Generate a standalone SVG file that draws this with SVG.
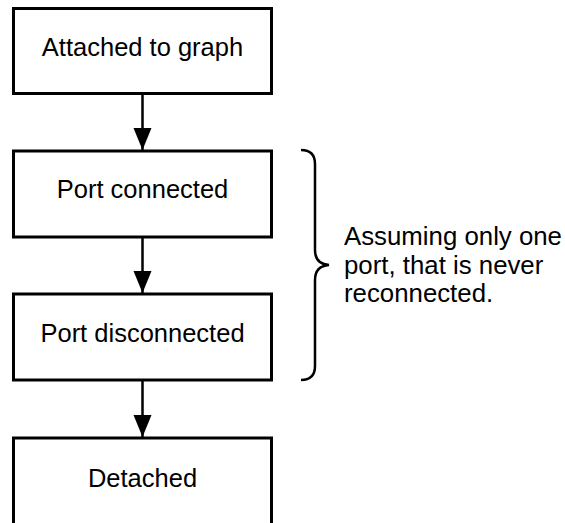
<svg xmlns="http://www.w3.org/2000/svg" width="565" height="523" viewBox="0 0 565 523">
<style>
.box{fill:#fff;stroke:#000;stroke-width:3}
.lbl{font-family:"Liberation Sans",Arial,sans-serif;font-size:25.5px;fill:#000;text-anchor:middle}
.note{font-family:"Liberation Sans",Arial,sans-serif;font-size:25.8px;fill:#000}
.edge{stroke:#000;stroke-width:2.5;fill:none}
</style>
<defs>
<marker id="ah" markerUnits="userSpaceOnUse" markerWidth="24" markerHeight="20" refX="22" refY="9" orient="auto">
<path d="M0,0 L22,9 L0,18 Z" fill="#000"/>
</marker>
</defs>
<rect width="565" height="523" fill="#fff"/>
<g id="n1"><rect class="box" x="13.5" y="8.5" width="258" height="85"/><text class="lbl" x="142.5" y="56">Attached to graph</text></g>
<g id="n2"><rect class="box" x="13.5" y="151" width="258" height="86"/><text class="lbl" x="142.5" y="198">Port connected</text></g>
<g id="n3"><rect class="box" x="13.5" y="294" width="258" height="86"/><text class="lbl" x="142.5" y="342">Port disconnected</text></g>
<g id="n4"><rect class="box" x="13.5" y="438" width="258" height="90"/><text class="lbl" x="142.5" y="487">Detached</text></g>
<g id="edges">
<line class="edge" x1="142.5" y1="93.5" x2="142.5" y2="150" marker-end="url(#ah)"/>
<line class="edge" x1="142.5" y1="237" x2="142.5" y2="293" marker-end="url(#ah)"/>
<line class="edge" x1="142.5" y1="380" x2="142.5" y2="437" marker-end="url(#ah)"/>
</g>
<g id="brace">
<path class="edge" d="M301,150 Q315,150 315,164 L315,250 Q315,264 329,265 Q315,266 315,280 L315,366 Q315,380 301,380"/>
<text class="note"><tspan x="344" y="245">Assuming only one</tspan><tspan x="344" y="273.5">port, that is never</tspan><tspan x="344" y="302">reconnected.</tspan></text>
</g>
</svg>
